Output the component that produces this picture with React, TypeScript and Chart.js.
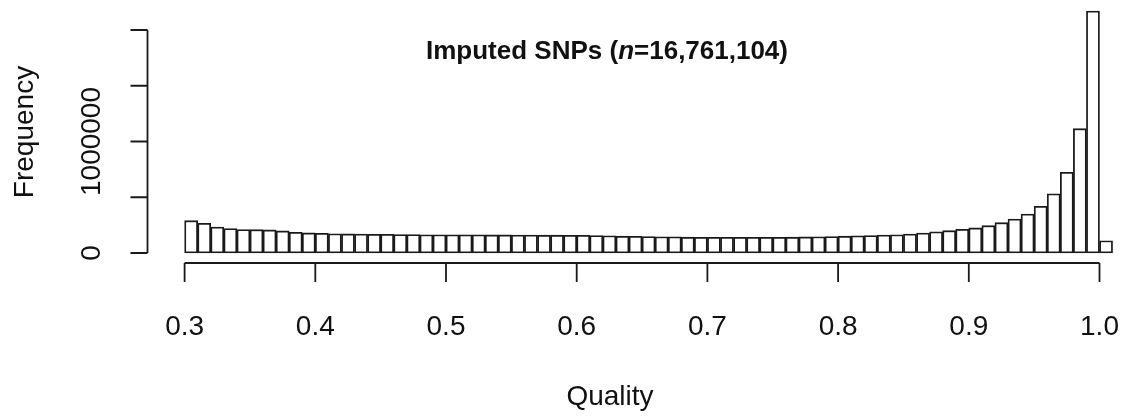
import React, { useEffect, useRef } from "react";
import { Chart, registerables } from "chart.js";

Chart.register(...registerables);

// Histogram bins (left edge of each 0.01-wide bin)
const binStarts = [
  0.30, 0.31, 0.32, 0.33, 0.34, 0.35, 0.36, 0.37, 0.38, 0.39,
  0.40, 0.41, 0.42, 0.43, 0.44, 0.45, 0.46, 0.47, 0.48, 0.49,
  0.50, 0.51, 0.52, 0.53, 0.54, 0.55, 0.56, 0.57, 0.58, 0.59,
  0.60, 0.61, 0.62, 0.63, 0.64, 0.65, 0.66, 0.67, 0.68, 0.69,
  0.70, 0.71, 0.72, 0.73, 0.74, 0.75, 0.76, 0.77, 0.78, 0.79,
  0.80, 0.81, 0.82, 0.83, 0.84, 0.85, 0.86, 0.87, 0.88, 0.89,
  0.90, 0.91, 0.92, 0.93, 0.94, 0.95, 0.96, 0.97, 0.98, 0.99,
  1.00,
];
const binWidth = 0.01;

// Frequency of each bin
const frequencies = [
  290000, 266000, 232000, 219000, 211000, 209000, 207000, 198000, 186000, 180000,
  176000, 173000, 171000, 170000, 168000, 167000, 166000, 165000, 164000, 164000,
  163000, 163000, 163000, 162000, 162000, 161000, 161000, 160000, 160000, 159000,
  158000, 157000, 155000, 151000, 149000, 147000, 146000, 145000, 142000, 141000,
  140000, 140000, 140000, 140000, 140000, 141000, 142000, 144000, 146000, 148000,
  151000, 154000, 157000, 161000, 164000, 170000, 179000, 190000, 200000, 212000,
  225000, 245000, 272000, 305000, 350000, 418000, 530000, 723000, 1115000, 2170000,
  110000,
];

const xTicks = [0.3, 0.4, 0.5, 0.6, 0.7, 0.8, 0.9, 1.0];
const yTicks = [0, 500000, 1000000, 1500000, 2000000];
const yTickLabels = ["0", "", "1000000", "", ""];

const titleMain = "Imputed SNPs (";
const titleItalic = "n";
const titleRest = "=16,761,104)";
const xTitle = "Quality";
const yTitle = "Frequency";

const FONT = '"Liberation Sans", Arial, Helvetica, sans-serif';

const rAxesPlugin = {
  id: "rAxes",
  afterDraw(chart: any) {
    const ctx = chart.ctx as CanvasRenderingContext2D;
    const xs = chart.scales.x;
    const ys = chart.scales.y;
    const area = chart.chartArea;
    ctx.save();
    ctx.strokeStyle = "#1a1a1a";
    ctx.fillStyle = "#111";
    ctx.lineWidth = 1.8;

    // X axis
    const axY = area.bottom;
    const x0 = xs.getPixelForValue(xTicks[0]);
    const x1 = xs.getPixelForValue(xTicks[xTicks.length - 1]);
    ctx.beginPath();
    ctx.moveTo(x0, axY);
    ctx.lineTo(x1, axY);
    xTicks.forEach((t) => {
      const px = xs.getPixelForValue(t);
      ctx.moveTo(px, axY);
      ctx.lineTo(px, axY + 19);
    });
    ctx.stroke();
    ctx.font = `28px ${FONT}`;
    ctx.textAlign = "center";
    ctx.textBaseline = "alphabetic";
    xTicks.forEach((t) => {
      ctx.fillText(t.toFixed(1), xs.getPixelForValue(t), 335);
    });

    // Y axis
    const axX = area.left;
    const y0 = ys.getPixelForValue(yTicks[0]);
    const y1 = ys.getPixelForValue(yTicks[yTicks.length - 1]);
    ctx.beginPath();
    ctx.moveTo(axX, y0);
    ctx.lineTo(axX, y1);
    yTicks.forEach((t) => {
      const py = ys.getPixelForValue(t);
      ctx.moveTo(axX, py);
      ctx.lineTo(axX - 17, py);
    });
    ctx.stroke();
    yTicks.forEach((t, i) => {
      const lab = yTickLabels[i];
      if (!lab) return;
      const py = ys.getPixelForValue(t);
      ctx.save();
      ctx.translate(100, py);
      ctx.rotate(-Math.PI / 2);
      ctx.textAlign = "center";
      ctx.fillText(lab, 0, 0);
      ctx.restore();
    });

    // Axis titles
    ctx.textAlign = "center";
    ctx.fillText(xTitle, 610, 405);
    ctx.save();
    ctx.translate(33, 132);
    ctx.rotate(-Math.PI / 2);
    ctx.fillText(yTitle, 0, 0);
    ctx.restore();

    // Main title with italic n
    const bold = `bold 26px ${FONT}`;
    const boldIt = `italic bold 26px ${FONT}`;
    ctx.font = bold;
    const w1 = ctx.measureText(titleMain).width;
    const w3 = ctx.measureText(titleRest).width;
    ctx.font = boldIt;
    const w2 = ctx.measureText(titleItalic).width;
    const total = w1 + w2 + w3;
    let tx = 607 - total / 2;
    const ty = 59;
    ctx.textAlign = "left";
    ctx.font = bold;
    ctx.fillText(titleMain, tx, ty);
    tx += w1;
    ctx.font = boldIt;
    ctx.fillText(titleItalic, tx, ty);
    tx += w2;
    ctx.font = bold;
    ctx.fillText(titleRest, tx, ty);
    ctx.restore();
  },
};

export default function App() {
  const canvasRef = useRef<HTMLCanvasElement | null>(null);

  useEffect(() => {
    if (!canvasRef.current) return;
    const chart = new Chart(canvasRef.current, {
      type: "bar",
      data: {
        datasets: [
          {
            data: binStarts.map((b, i) => ({ x: b + binWidth / 2, y: frequencies[i] })),
            backgroundColor: "#ffffff",
            borderColor: "#1a1a1a",
            borderWidth: 1.8,
            borderSkipped: false,
            barPercentage: 1,
            categoryPercentage: 1,
          } as any,
        ],
      },
      options: {
        responsive: false,
        animation: false,
        layout: { padding: { left: 147.5, right: 0, top: 1, bottom: 154 } },
        scales: {
          x: { type: "linear", offset: false, min: 0.27161, max: 1.01951, display: false },
          y: { min: -89700, max: 2260000, display: false },
        },
        plugins: { legend: { display: false }, tooltip: { enabled: false } },
      },
      plugins: [rAxesPlugin],
    });
    return () => chart.destroy();
  }, []);

  return (
    <div style={{ position: "fixed", left: 0, top: 0, width: 1125, height: 417, background: "#fff" }}>
      <canvas ref={canvasRef} width={1125} height={417} style={{ display: "block" }} />
    </div>
  );
}
